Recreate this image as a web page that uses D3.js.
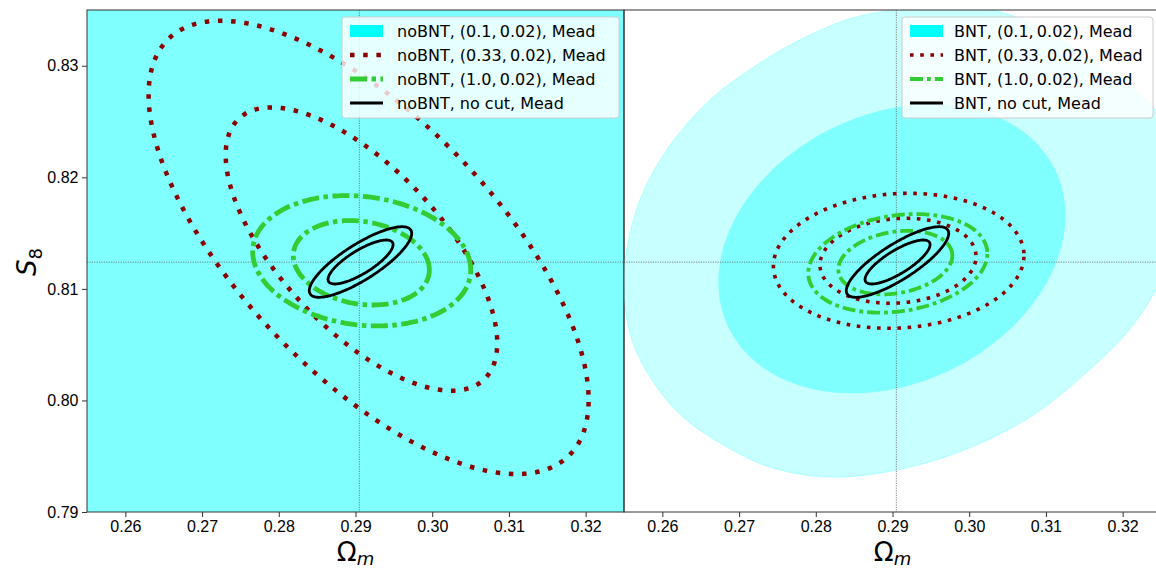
<!DOCTYPE html>
<html>
<head>
<meta charset="utf-8">
<script src="https://cdnjs.cloudflare.com/ajax/libs/d3/7.8.5/d3.min.js"></script>
<style>
body { margin: 0; background: #fff; }
svg { display: block; font-family: "DejaVu Sans", sans-serif; }
.tick text { font-size: 16px; fill: #000; }
.tick line { stroke: #333; }
</style>
</head>
<body>
<div id="chart"></div>
<script>
/*jslint browser:true*/
/*global d3*/

// axes
var xTicks = [0.26, 0.27, 0.28, 0.29, 0.30, 0.31, 0.32];
var yTicks = [0.79, 0.80, 0.81, 0.82, 0.83];
var xDomain = [0.255, 0.325];
var yDomain = [0.79, 0.835];
var fiducial = [0.2905, 0.8124];

// contours as [Om_centre, S8_centre, half-width Om, half-height S8, correlation]
// inner level first, outer level second
var noBNT01 = [[0.292, 0.814, 0.09, 0.065, -0.67], [0.292, 0.814, 0.145, 0.104, -0.67]];
var noBNT033 = [[0.29078, 0.81357, 0.01770, 0.01270, -0.663], [0.29171, 0.81372, 0.02868, 0.02032, -0.673]];
var noBNT10 = [[0.29076, 0.81234, 0.008865, 0.003783, -0.17], [0.29081, 0.81252, 0.01421, 0.005844, -0.14]];
var noBNTnocut = [[0.29066, 0.81241, 0.004237, 0.001972, 0.79], [0.29065, 0.81241, 0.006675, 0.003164, 0.81]];

var BNT01inner = [0.28992, 0.81359, 0.02262, 0.01295, 0.23];
// outer BNT (0.1, 0.02) level is not elliptic: boundary
var BNT01outer = [
    [0.25500, 0.81053], [0.25535, 0.81349], [0.25709, 0.81797], [0.26057, 0.82245],
    [0.26621, 0.82693], [0.27273, 0.83025], [0.27925, 0.83276], [0.28577, 0.83446],
    [0.29489, 0.83518], [0.30402, 0.83482], [0.31184, 0.83231], [0.31836, 0.82917],
    [0.32435, 0.82603], [0.32748, 0.82155], [0.32813, 0.81707], [0.32683, 0.81304],
    [0.32435, 0.80990], [0.32083, 0.80631], [0.31562, 0.80273], [0.30793, 0.79852],
    [0.29932, 0.79556], [0.29046, 0.79376], [0.28160, 0.79314], [0.27403, 0.79403],
    [0.26843, 0.79583], [0.26269, 0.79852], [0.25839, 0.80210], [0.25578, 0.80604]
];
var BNT033 = [[0.29072, 0.81252, 0.01017, 0.00381, 0.10], [0.29081, 0.81252, 0.01633, 0.00605, 0.08]];
var BNT10 = [[0.29037, 0.81236, 0.00743, 0.00285, 0.22], [0.29069, 0.81229, 0.01167, 0.00442, 0.20]];
var BNTnocut = noBNTnocut;

var cuts = ["(0.1,\u20090.02)", "(0.33,\u20090.02)", "(1.0,\u20090.02)", "no cut"];

(function () {
    "use strict";
    var svg, panels,
        dims = {width: 1156, height: 571},
        plot = {top: 10, bottom: 512, width: 537},
        fillOuter = "#c8ffff",
        fillInner = "#80ffff";

    svg = d3.select("#chart").append("svg")
        .attr("width", dims.width)
        .attr("height", dims.height);

    function ellipsePoints(e) {
        var pts = [], i, t, n = 200,
            q = Math.sqrt(1 - e[4] * e[4]);
        for (i = 0; i < n; i += 1) {
            t = 2 * Math.PI * i / n;
            pts.push([e[0] + e[2] * Math.cos(t),
                e[1] + e[3] * (e[4] * Math.cos(t) + q * Math.sin(t))]);
        }
        return pts;
    }

    panels = [
        {
            prefix: "noBNT", x0: 87, yAxis: true, legendX: 342, legendW: 277,
            fills: [ellipsePoints(noBNT01[1]), ellipsePoints(noBNT01[0])],
            dotted: noBNT033, dashdot: noBNT10, solid: noBNTnocut,
            dotW: 4.5, dotDash: "4.5 8.7", ddW: 4.8, ddDash: "17 4.5 4.5 4.5"
        },
        {
            prefix: "BNT", x0: 624, yAxis: false, legendX: 902, legendW: 251,
            fills: [BNT01outer, ellipsePoints(BNT01inner)],
            dotted: BNT033, dashdot: BNT10, solid: BNTnocut,
            dotW: 3.6, dotDash: "3.6 6.6", ddW: 3.8, ddDash: "13 4 3.8 4"
        }
    ];

    panels.forEach(function (p, idx) {
        var x, y, g, line, clipId = "clip" + idx, legend, rows;

        x = d3.scaleLinear().domain(xDomain).range([p.x0, p.x0 + plot.width]);
        y = d3.scaleLinear().domain(yDomain).range([plot.bottom, plot.top]);

        svg.append("clipPath").attr("id", clipId)
            .append("rect")
            .attr("x", p.x0).attr("y", plot.top)
            .attr("width", plot.width).attr("height", plot.bottom - plot.top);

        g = svg.append("g").attr("clip-path", "url(#" + clipId + ")");

        line = d3.line()
            .x(function (d) { return x(d[0]); })
            .y(function (d) { return y(d[1]); })
            .curve(d3.curveCatmullRomClosed);

        // filled (0.1, 0.02) levels
        g.selectAll("path.fill").data(p.fills).enter().append("path")
            .attr("class", "fill")
            .attr("d", line)
            .attr("fill", function (d, i) { return i === 0 ? fillOuter : fillInner; })
            .attr("stroke", function (d, i) { return i === 0 ? "#aaffff" : "none"; })
            .attr("stroke-width", 1);

        // fiducial lines
        g.append("line")
            .attr("x1", x(fiducial[0])).attr("x2", x(fiducial[0]))
            .attr("y1", plot.top).attr("y2", plot.bottom)
            .attr("stroke", "#666").attr("stroke-width", 0.8)
            .attr("stroke-dasharray", "1.2 1.2");
        g.append("line")
            .attr("x1", p.x0).attr("x2", p.x0 + plot.width)
            .attr("y1", y(fiducial[1])).attr("y2", y(fiducial[1]))
            .attr("stroke", "#666").attr("stroke-width", 0.8)
            .attr("stroke-dasharray", "1.2 1.2");

        // contour lines
        g.selectAll("path.dotted").data(p.dotted).enter().append("path")
            .attr("class", "dotted")
            .attr("d", function (d) { return line(ellipsePoints(d)); })
            .attr("fill", "none").attr("stroke", "#8b0000")
            .attr("stroke-width", p.dotW).attr("stroke-dasharray", p.dotDash);

        g.selectAll("path.dashdot").data(p.dashdot).enter().append("path")
            .attr("class", "dashdot")
            .attr("d", function (d) { return line(ellipsePoints(d)); })
            .attr("fill", "none").attr("stroke", "#32cd32")
            .attr("stroke-width", p.ddW).attr("stroke-dasharray", p.ddDash);

        g.selectAll("path.solid").data(p.solid).enter().append("path")
            .attr("class", "solid")
            .attr("d", function (d) { return line(ellipsePoints(d)); })
            .attr("fill", "none").attr("stroke", "#000")
            .attr("stroke-width", 2.8);

        // axes
        svg.append("g")
            .attr("transform", "translate(0," + plot.bottom + ")")
            .call(d3.axisBottom(x).tickValues(xTicks).tickFormat(d3.format(".2f"))
                .tickSize(5).tickPadding(3.5).tickSizeOuter(0))
            .call(function (a) { a.select(".domain").remove(); });

        if (p.yAxis) {
            svg.append("g")
                .attr("transform", "translate(" + p.x0 + ",0)")
                .call(d3.axisLeft(y).tickValues(yTicks).tickFormat(d3.format(".2f"))
                    .tickSize(5).tickPadding(3.5).tickSizeOuter(0))
                .call(function (a) { a.select(".domain").remove(); });

            svg.append("text")
                .attr("transform", "translate(36,262) rotate(-90)")
                .attr("text-anchor", "middle")
                .style("font-size", "26px")
                .html("<tspan font-style='italic'>S</tspan><tspan font-size='18px' dy='6'>8</tspan>");
        }

        svg.append("text")
            .attr("x", p.x0 + plot.width / 2)
            .attr("y", 561)
            .attr("text-anchor", "middle")
            .style("font-size", "26px")
            .html("\u03a9<tspan font-style='italic' font-size='18px' dy='4'>m</tspan>");

        // spines
        svg.append("rect")
            .attr("x", p.x0).attr("y", plot.top)
            .attr("width", plot.width).attr("height", plot.bottom - plot.top)
            .attr("fill", "none").attr("stroke", "#333").attr("stroke-width", 1);

        // legend
        legend = svg.append("g").attr("transform", "translate(" + p.legendX + ",17)");
        legend.append("rect")
            .attr("width", p.legendW).attr("height", 101)
            .attr("rx", 3)
            .attr("fill", "#fff").attr("fill-opacity", 0.8)
            .attr("stroke", "#ccc").attr("stroke-width", 1);

        rows = legend.selectAll("g.row").data(cuts).enter().append("g")
            .attr("class", "row")
            .attr("transform", function (d, i) { return "translate(8," + (14 + i * 24) + ")"; });

        rows.each(function (d, i) {
            var r = d3.select(this);
            if (i === 0) {
                r.append("rect").attr("x", 0).attr("y", -6).attr("width", 33).attr("height", 12)
                    .attr("fill", "#00ffff");
            } else if (i === 1) {
                r.append("line").attr("x1", 0).attr("x2", 33)
                    .attr("stroke", "#8b0000").attr("stroke-width", p.dotW)
                    .attr("stroke-dasharray", p.dotDash);
            } else if (i === 2) {
                r.append("line").attr("x1", 0).attr("x2", 33)
                    .attr("stroke", "#32cd32").attr("stroke-width", p.ddW)
                    .attr("stroke-dasharray", p.ddDash);
            } else {
                r.append("line").attr("x1", 0).attr("x2", 33)
                    .attr("stroke", "#000").attr("stroke-width", 2.8);
            }
            r.append("text")
                .attr("x", p.prefix === "noBNT" ? 47 : 44)
                .attr("dy", "0.36em")
                .style("font-size", "16px")
                .text(p.prefix + ", " + d + ", Mead");
        });
    });
}());
</script>
</body>
</html>
